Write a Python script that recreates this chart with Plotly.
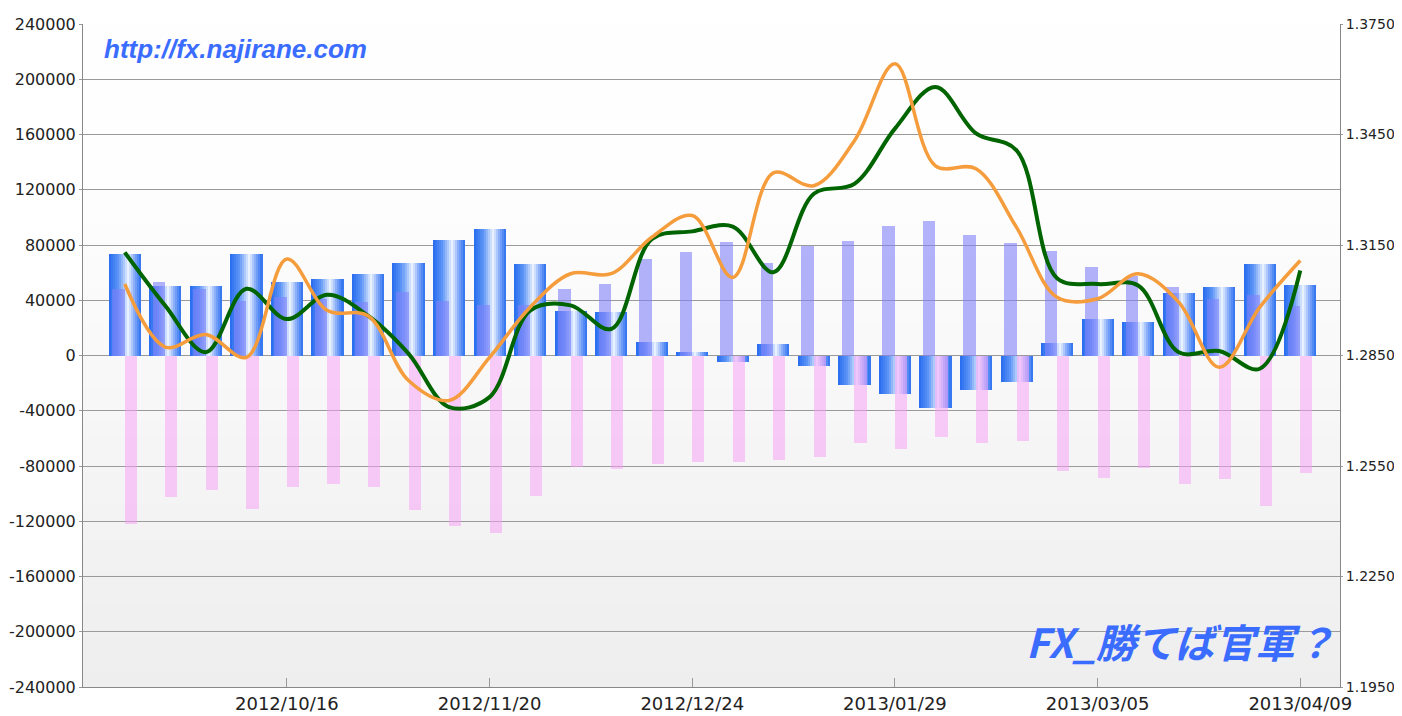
import plotly.graph_objects as go

# ---------------- data ----------------
dates = ["2012/09/18", "2012/09/25", "2012/10/02", "2012/10/09", "2012/10/16",
         "2012/10/23", "2012/10/30", "2012/11/06", "2012/11/13", "2012/11/20",
         "2012/11/27", "2012/12/04", "2012/12/11", "2012/12/18", "2012/12/24",
         "2012/12/31", "2013/01/08", "2013/01/15", "2013/01/22", "2013/01/29",
         "2013/02/05", "2013/02/12", "2013/02/19", "2013/02/26", "2013/03/05",
         "2013/03/12", "2013/03/19", "2013/03/26", "2013/04/02", "2013/04/09"]
tick_dates = ["2012/10/16", "2012/11/20", "2012/12/24", "2013/01/29", "2013/03/05", "2013/04/09"]

long_pos = [48200, 53500, 48500, 39800, 42200, 41000, 38600, 45800, 39300, 36400,
            36500, 48500, 51500, 69900, 75200, 81900, 66800, 79600, 83200, 93600,
            97700, 87600, 81100, 75300, 63800, 57800, 49400, 41000, 44100, 36200]
short_pos = [-121700, -102400, -97600, -110900, -95200, -92800, -95200, -111600, -123400, -128200,
             -101700, -80800, -82500, -78800, -76900, -76900, -75300, -73400, -63300, -67400,
             -59200, -63300, -61600, -83900, -88700, -81200, -92800, -89200, -109200, -85100]
net_pos = [73500, 50100, 50000, 73500, 53500, 55400, 59100, 67000, 83400, 91600,
           66500, 32300, 31600, 9600, 2200, -4600, 8500, -7700, -21500, -27800,
           -37900, -24800, -19500, 9400, 26500, 24600, 45000, 49400, 66300, 51300]

rate_green = [1.3130, 1.2985, 1.2859, 1.3031, 1.2949, 1.3015, 1.2958, 1.2855, 1.2710, 1.2737,
              1.2972, 1.2986, 1.2922, 1.3166, 1.3187, 1.3200, 1.3076, 1.3289, 1.3316, 1.3466,
              1.3579, 1.3453, 1.3407, 1.3060, 1.3044, 1.3040, 1.2859, 1.2862, 1.2814, 1.3081]
rate_orange = [1.3044, 1.2873, 1.2907, 1.2845, 1.3112, 1.2972, 1.2958, 1.2782, 1.2728, 1.2845,
               1.2981, 1.3072, 1.3072, 1.3171, 1.3230, 1.3062, 1.3346, 1.3311, 1.3433, 1.3642,
               1.3365, 1.3357, 1.3198, 1.3008, 1.3004, 1.3072, 1.2995, 1.2818, 1.2981, 1.3108]

left_ticks = list(range(-240000, 240001, 40000))
right_ticks = [1.1950, 1.2250, 1.2550, 1.2850, 1.3150, 1.3450, 1.3750]

# ---------------- figure ----------------
fig = go.Figure()

def lerp(c1, c2, t):
    return tuple(round(a + (b - a) * t) for a, b in zip(c1, c2))

stops = [(0.0, (38, 108, 240)), (0.3, (95, 150, 246)), (0.6, (236, 243, 255)),
         (0.8, (130, 168, 248)), (1.0, (42, 112, 240))]

def grad(t):
    for (t0, c0), (t1, c1) in zip(stops[:-1], stops[1:]):
        if t <= t1:
            return lerp(c0, c1, (t - t0) / (t1 - t0))
    return stops[-1][1]

net_width = 0.79
n_slices = 16
sw = net_width / n_slices
for k in range(n_slices):
    c = grad((k + 0.5) / n_slices)
    fig.add_trace(go.Bar(
        x=dates, y=net_pos, width=sw * 1.08, offset=-net_width / 2 + k * sw,
        marker=dict(color="rgb(%d,%d,%d)" % c, line=dict(width=0)),
        showlegend=False, hoverinfo="skip"))

fig.add_trace(go.Bar(
    x=dates, y=long_pos, width=0.31, offset=-0.31,
    marker=dict(color="rgba(128,128,250,0.6)", line=dict(width=0)),
    showlegend=False, name="Long"))
fig.add_trace(go.Bar(
    x=dates, y=short_pos, width=0.30, offset=0.0,
    marker=dict(color="rgba(247,160,247,0.52)", line=dict(width=0)),
    showlegend=False, name="Short"))

fig.add_trace(go.Scatter(
    x=dates, y=rate_green, yaxis="y2", mode="lines",
    line=dict(color="#006400", width=4, shape="spline", smoothing=1.0),
    showlegend=False))
fig.add_trace(go.Scatter(
    x=dates, y=rate_orange, yaxis="y2", mode="lines",
    line=dict(color="#f59c3c", width=3.5, shape="spline", smoothing=1.0),
    showlegend=False))

# background gradient
n_strips = 40
shapes = []
for i in range(n_strips):
    t = i / (n_strips - 1)
    g = round(238 + (254 - 238) * min(1.0, t * 1.3))
    shapes.append(dict(type="rect", xref="x domain", yref="y domain",
                       x0=0, x1=1, y0=i / n_strips, y1=(i + 1) / n_strips + 0.002,
                       fillcolor="rgb(%d,%d,%d)" % (g, g, g), line=dict(width=0),
                       layer="below"))

# the page places the figure 8px from the top-left corner
fig.update_layout(
    width=1394, height=708,
    margin=dict(l=75, r=62, t=16, b=29, autoexpand=False),
    paper_bgcolor="white", plot_bgcolor="rgba(0,0,0,0)",
    barmode="overlay", bargap=0,
    shapes=shapes,
    xaxis=dict(type="category", range=[-1.03, 29.98], automargin=False,
               tickmode="array", tickvals=tick_dates, ticktext=tick_dates,
               ticks="inside", ticklen=9, tickcolor="#999999",
               showgrid=False, zeroline=False,
               showline=True, linecolor="#888888", linewidth=1,
               tickfont=dict(family="DejaVu Sans", size=18, color="#222222")),
    yaxis=dict(range=[-240000, 240000], tickmode="array", tickvals=left_ticks,
               ticktext=[str(v) for v in left_ticks], automargin=False,
               showgrid=True, gridcolor="#9a9a9a", gridwidth=1,
               zeroline=False, showline=True, linecolor="#888888", linewidth=1,
               ticks="outside", ticklen=3, tickcolor="#999999",
               tickfont=dict(family="DejaVu Sans", size=16, color="#222222")),
    yaxis2=dict(range=[1.1950, 1.3750], overlaying="y", side="right", automargin=False,
                tickmode="array", tickvals=right_ticks,
                ticktext=["%.4f" % v for v in right_ticks],
                showgrid=False, zeroline=False,
                showline=True, linecolor="#888888", linewidth=1,
                ticks="outside", ticklen=2, tickcolor="#999999",
                tickfont=dict(family="DejaVu Sans", size=14, color="#222222")),
    annotations=[
        dict(text="<b><i>http://fx.najirane.com</i></b>", xref="x domain", yref="y domain",
             x=0.015, y=0.962, xanchor="left", yanchor="middle", showarrow=False,
             font=dict(family="Liberation Sans", size=26, color="#3a6cff")),
        dict(text="<b><i>FX_勝てば官軍？</i></b>", xref="x domain", yref="y domain",
             x=0.998, y=0.069, xanchor="right", yanchor="middle", showarrow=False,
             font=dict(family="Noto Sans CJK JP", size=40, color="#3a6cff")),
    ],
)

fig.write_html("out.html")
